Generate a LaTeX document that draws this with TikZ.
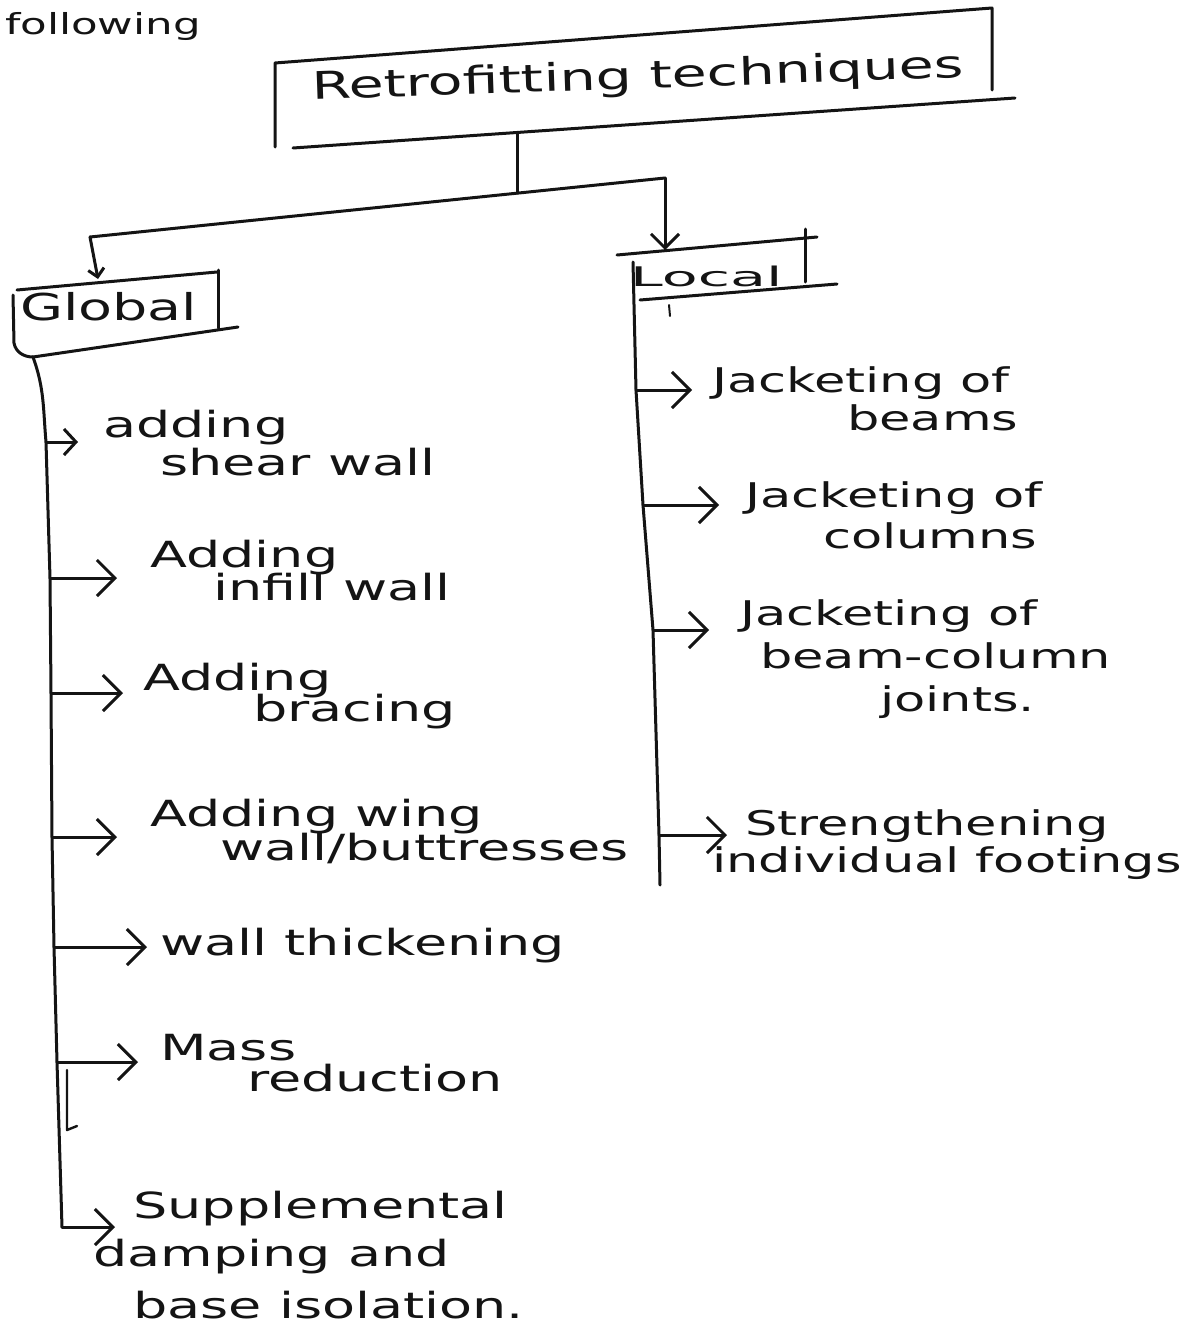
\documentclass[tikz,border=0pt]{standalone}
\usepackage{fontspec}
\newfontfamily\hand[FakeStretch=1.5]{DejaVu Sans}
\usetikzlibrary{arrows.meta}
\definecolor{ink}{HTML}{141414}
\newcommand\mlines[2]{\vtop{\baselineskip=#1\lineskiplimit=-1000pt\lineskip=0pt #2}}
\begin{document}
\begin{tikzpicture}[x=1pt,y=-1pt,
  inkline/.style={draw=ink, line width=3pt, line cap=round, line join=round},
  arr/.style={inkline, -{Straight Barb[length=18pt,width=36pt]}},
  lbl/.style={anchor=base west, inner sep=0pt, text=ink},
  gfont/.style={font=\hand\fontsize{36}{38}\selectfont},
  lfont/.style={font=\hand\fontsize{34}{38}\selectfont}]
\fill[white] (0,0) rectangle (1182,1333);
\useasboundingbox (0,0) rectangle (1182,1333);

% top text
\node[lbl, font=\hand\fontsize{29}{32}\selectfont] (follow) at (5,34) {following};

% title box
\node[lbl, rotate=2, font=\hand\fontsize{38}{40}\selectfont] (title) at (312,100) {Retrofitting techniques};
\coordinate (tTL) at (275,63);
\coordinate (tTR) at (992,8);
\coordinate (tRB) at (992,90);
\coordinate (tLB) at (275,147);
\coordinate (tBL) at (293,148);
\coordinate (tBR) at (1015,98);
\draw[inkline] (tLB) -- (tTL) -- (tTR) -- (tRB);
\draw[inkline] (tBL) -- (tBR);

% stem and branch
\coordinate (stemA) at (517,133);
\coordinate (fork) at (517,193);
\coordinate (brL) at (90,237);
\coordinate (brR) at (665,178);
\coordinate (gtip) at (98,279);
\coordinate (ltip) at (665,250);
\draw[inkline] (stemA) -- (fork);
\draw[inkline] (brL) -- (brR);
\draw[inkline, -{Straight Barb[length=8pt,width=16pt]}] (brL) -- (gtip);
\draw[inkline, -{Straight Barb[length=14pt,width=28pt]}] (brR) -- (ltip);

% Global box
\node[lbl, font=\hand\fontsize{37}{40}\selectfont] (global) at (20,320) {Global};
\coordinate (gTL) at (17,290);
\coordinate (gTR) at (217,272);
\coordinate (gRT) at (218,270);
\coordinate (gRB) at (218,328);
\coordinate (gLT) at (13,295);
\coordinate (gtop) at (33,357);
\coordinate (gBR) at (238,327);
\draw[inkline] (gTL) -- (gTR);
\draw[inkline] (gRT) -- (gRB);
\draw[inkline] (gLT) -- (14,343) to[out=-80,in=180] (gtop);
\draw[inkline] (gtop) -- (gBR);

% Local box
\node[lbl, font=\hand\fontsize{27}{30}\selectfont] (local) at (630,286) {\scalebox{1.45}[1]{Local}};
\draw[inkline] (617,255) -- (817,237);
\draw[inkline] (805,229) -- (805,282);
\draw[inkline] (640,300) -- (837,284);
\draw[inkline, line width=2pt] (669,305) -- (670,316);

% Global spine
\coordinate (g1) at (46,442);
\coordinate (g2) at (50,578);
\coordinate (g3) at (51,693);
\coordinate (g4) at (52,837);
\coordinate (g5) at (54,947);
\coordinate (g6) at (57,1062);
\coordinate (g7) at (62,1227);
\draw[inkline] (gtop) to[out=-70,in=95] (g1) -- (g2) -- (g3) -- (g4) -- (g5) -- (g6) -- (g7);
\draw[inkline, line width=2.4pt] (67,1070) -- (67,1130) -- (77,1126);

\coordinate (e1) at (78,442);
\coordinate (e2) at (117,578);
\coordinate (e3) at (123,693);
\coordinate (e4) at (117,837);
\coordinate (e5) at (147,947);
\coordinate (e6) at (138,1062);
\coordinate (e7) at (115,1227);
\draw[inkline, -{Straight Barb[length=12pt,width=26pt]}] (g1) -- (e1);
\draw[arr] (g2) -- (e2);
\draw[arr] (g3) -- (e3);
\draw[arr] (g4) -- (e4);
\draw[arr] (g5) -- (e5);
\draw[arr] (g6) -- (e6);
\draw[arr] (g7) -- (e7);

\node[lbl, gfont] (t1) at (103,437) {\mlines{38pt}{\hbox{adding}\hbox{\hspace*{57pt}shear wall}}};
\node[lbl, gfont] (t2) at (150,567) {\mlines{33pt}{\hbox{Adding}\hbox{\hspace*{63pt}infill wall}}};
\node[lbl, gfont] (t3) at (143,690) {\mlines{31pt}{\hbox{Adding}\hbox{\hspace*{110pt}bracing}}};
\node[lbl, gfont] (t4) at (150,826) {\mlines{34pt}{\hbox{Adding wing}\hbox{\hspace*{70pt}wall/buttresses}}};
\node[lbl, gfont] (t5) at (160,955) {wall thickening};
\node[lbl, gfont] (t6) at (160,1060) {\mlines{31pt}{\hbox{Mass}\hbox{\hspace*{87pt}reduction}}};
\node[lbl, gfont] (t7) at (93,1218) {\mlines{48pt}{\hbox{\hspace*{40pt}Supplemental}\hbox{damping and}\vskip4pt\hbox{\hspace*{40pt}base isolation.}}};

% Local spine
\coordinate (ltop) at (633,262);
\coordinate (l1) at (636,390);
\coordinate (l2) at (643,505);
\coordinate (l3) at (653,630);
\coordinate (l4) at (659,835);
\coordinate (lbot) at (660,885);
\draw[inkline] (ltop) -- (l1) -- (l2) -- (l3) -- (l4) -- (lbot);

\coordinate (f1) at (692,390);
\coordinate (f2) at (719,505);
\coordinate (f3) at (709,630);
\coordinate (f4) at (727,835);
\draw[arr] (l1) -- (f1);
\draw[arr] (l2) -- (f2);
\draw[arr] (l3) -- (f3);
\draw[arr] (l4) -- (f4);

\node[lbl, lfont] (u1) at (712,392) {\mlines{38pt}{\hbox{Jacketing of}\hbox{\hspace*{135pt}beams}}};
\node[lbl, lfont] (u2) at (745,507) {\mlines{41pt}{\hbox{Jacketing of}\hbox{\hspace*{78pt}columns}}};
\node[lbl, lfont] (u3) at (740,625) {\mlines{43pt}{\hbox{Jacketing of}\hbox{\hspace*{20pt}beam-column}\hbox{\hspace*{140pt}joints.}}};
\node[lbl, lfont] (u4) at (712,835) {\mlines{37pt}{\hbox{\hspace*{33pt}Strengthening}\hbox{individual footings}}};
\end{tikzpicture}
\end{document}
